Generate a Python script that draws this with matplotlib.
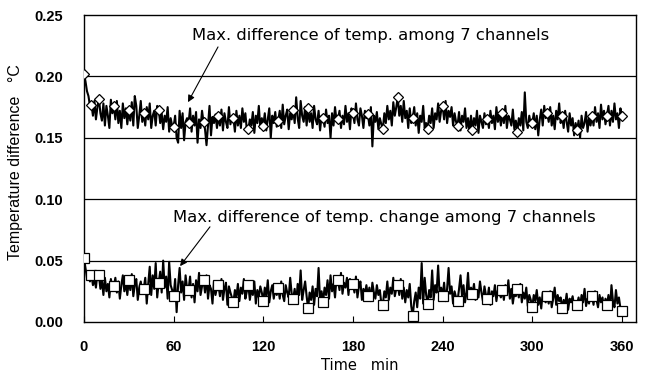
import numpy as np
import matplotlib
matplotlib.use("Agg")
import matplotlib.pyplot as plt
from matplotlib.font_manager import FontProperties

# ---- data (temperatures in units of 0.001 degC, one value per minute 0..360) ----
minutes = list(range(0, 361))

upper_mK = [
    202, 196, 188, 184, 176, 177, 168, 180, 165, 175,
    182, 170, 164, 178, 160, 176, 168, 158, 181, 170,
    176, 165, 180, 162, 172, 158, 178, 166, 174, 161,
    173, 164, 179, 160, 184, 176, 158, 168, 180, 163,
    170, 160, 175, 165, 178, 158, 168, 172, 160, 176,
    173, 162, 170, 157, 168, 163, 175, 155, 166, 160,
    159, 168, 150, 146, 172, 158, 170, 148, 163, 166,
    162, 174, 155, 168, 160, 171, 146, 165, 158, 172,
    163, 157, 144, 160, 176, 152, 167, 162, 169, 158,
    168, 160, 173, 156, 170, 163, 158, 175, 161, 167,
    166, 155, 172, 160, 168, 158, 174, 163, 170, 156,
    157, 165, 160, 171, 154, 168, 162, 176, 158, 166,
    160, 170, 156, 165, 174, 150, 168, 162, 171, 159,
    164, 172, 158, 177, 161, 168, 173, 157, 170, 165,
    173, 162, 183, 166, 158, 180, 168, 163, 175, 160,
    174, 163, 170, 158, 176, 165, 161, 172, 156, 168,
    166, 159, 173, 162, 168, 150, 170, 160, 175, 164,
    165, 172, 158, 168, 161, 176, 163, 170, 157, 174,
    170, 162, 178, 165, 160, 174, 168, 158, 172, 166,
    169, 160, 175, 143, 168, 163, 171, 157, 166, 161,
    157, 170, 162, 176, 165, 172, 160, 179, 168, 175,
    183, 168, 176, 163, 180, 166, 172, 158, 174, 162,
    166, 175, 160, 170, 154, 168, 163, 176, 158, 162,
    157, 168, 162, 174, 158, 170, 165, 178, 163, 172,
    176, 165, 180, 162, 172, 167, 175, 160, 170, 163,
    160, 171, 156, 168, 163, 174, 158, 166, 155, 168,
    156, 166, 160, 172, 154, 168, 163, 158, 170, 161,
    165, 158, 172, 162, 168, 157, 175, 163, 170, 160,
    170, 162, 176, 158, 168, 165, 160, 173, 157, 164,
    155, 166, 160, 171, 156, 187, 163, 158, 168, 161,
    162, 170, 157, 168, 152, 165, 173, 160, 176, 166,
    170, 163, 175, 160, 168, 157, 172, 165, 178, 162,
    168, 158, 172, 163, 155, 170, 160, 166, 152, 162,
    156, 164, 150, 168, 158, 162, 171, 155, 166, 160,
    168, 160, 175, 163, 170, 158, 177, 165, 172, 161,
    168, 176, 160, 172, 163, 178, 165, 170, 158, 174,
    168,
]

lower_mK = [
    52, 44, 36, 40, 33, 38, 30, 35, 28, 40,
    38, 27, 34, 22, 36, 25, 31, 20, 35, 28,
    29, 36, 24, 33, 19, 30, 38, 25, 32, 22,
    34, 26, 39, 21, 30, 35, 18, 28, 33, 24,
    27, 36, 15, 31, 45, 22, 38, 27, 48, 20,
    32, 41, 24, 50, 28, 37, 19, 49, 30, 26,
    21, 35, 8, 30, 44, 24, 33, 18, 38, 27,
    26, 37, 20, 31, 16, 34, 25, 40, 22, 29,
    34, 24, 38, 19, 30, 27, 15, 33, 22, 28,
    30, 21, 35, 18, 27, 32, 14, 29, 24, 20,
    16, 26, 20, 31, 17, 28, 23, 35, 19, 25,
    30, 18, 27, 22, 33, 15, 26, 20, 29, 24,
    17, 28, 21, 34, 16, 25, 30, 19, 27, 22,
    28, 19, 33, 22, 17, 30, 24, 20, 36, 23,
    19, 27, 15, 31, 22, 42, 18, 26, 33, 21,
    11, 24, 18, 29, 14, 27, 21, 44, 17, 25,
    16, 28, 22, 34, 19, 38, 25, 31, 20, 36,
    34, 26, 40, 23, 32, 28, 36, 22, 35, 27,
    31, 24, 37, 20, 29, 33, 18, 27, 23, 30,
    21, 28, 17, 32, 24, 19, 30, 22, 26, 15,
    14, 25, 20, 33, 18, 28, 23, 36, 21, 27,
    30, 22, 35, 19, 28, 16, 26, 20, 31, 13,
    5, 17, 24, 12, 28, 19, 48, 15, 36, 22,
    15, 26, 20, 42, 18, 30, 24, 46, 22, 28,
    21, 32, 17, 27, 44, 23, 29, 15, 25, 20,
    17, 27, 38, 21, 30, 16, 24, 40, 19, 28,
    23, 31, 18, 26, 20, 33, 24, 17, 29, 22,
    19, 28, 14, 25, 21, 30, 17, 26, 23, 20,
    26, 18, 30, 22, 34, 19, 27, 15, 24, 21,
    27, 20, 31, 16, 24, 19, 28, 13, 22, 18,
    12, 22, 17, 26, 14, 20, 11, 24, 18, 16,
    21, 15, 25, 12, 19, 28, 14, 22, 17, 20,
    11, 18, 14, 23, 10, 19, 16, 21, 13, 17,
    14, 20, 12, 22, 16, 27, 13, 19, 15, 24,
    21, 14, 25, 18, 12, 22, 16, 20, 11, 19,
    14, 22, 10, 30, 17, 12, 26, 15, 20, 11,
    9,
]

marker_minutes = [0, 5] + list(range(10, 361, 10))

x_ticks = [0, 60, 120, 180, 240, 300, 360]
y_ticks = [0.00, 0.05, 0.10, 0.15, 0.20, 0.25]

label_upper = "Max. difference of temp. among 7 channels"
label_lower = "Max. difference of temp. change among 7 channels"
x_label = "Time   min"
y_label = "Temperature difference   \u00b0C"

# ---- plotting ----
upper = np.array(upper_mK) / 1000.0
lower = np.array(lower_mK) / 1000.0
t = np.array(minutes)
mi = np.array(marker_minutes)

fig = plt.figure(figsize=(6.45, 3.79), dpi=100)
ax = fig.add_axes([0.1302, 0.1504, 0.8558, 0.81])

for yv in [0.05, 0.10, 0.15, 0.20]:
    ax.axhline(yv, color="black", lw=0.9, zorder=1)

ax.plot(t, upper, color="black", lw=1.5, zorder=2)
ax.plot(t, lower, color="black", lw=1.5, zorder=2)
ax.plot(t[mi], upper[mi], ls="none", marker="D", ms=5.6, mfc="white",
        mec="black", mew=0.9, zorder=3)
ax.plot(t[mi], lower[mi], ls="none", marker="s", ms=7.2, mfc="white",
        mec="black", mew=0.9, zorder=3)

ax.set_xlim(0, 369.4)
ax.set_ylim(0, 0.25)
ax.set_xticks(x_ticks)
ax.set_yticks(y_ticks)
ax.set_xticklabels([str(v) for v in x_ticks])
ax.set_yticklabels([f"{v:.2f}" for v in y_ticks])
tick_fp = FontProperties(family="Liberation Sans", weight="bold", size=10.5)
for lab in ax.get_xticklabels() + ax.get_yticklabels():
    lab.set_fontproperties(tick_fp)
ax.tick_params(axis="x", direction="in", length=4, pad=13, width=0.8)
ax.tick_params(axis="y", direction="in", length=0, pad=15)
for sp in ax.spines.values():
    sp.set_linewidth(1.0)

ax.set_xlabel(x_label, family="DejaVu Sans", fontsize=10.5, labelpad=3)
ax.set_ylabel(y_label, family="Liberation Sans", fontsize=11.5, labelpad=8)
ax.yaxis.set_label_coords(-0.11, 0.52)

txt_kw = dict(family="DejaVu Sans", fontsize=11.8, va="center", ha="left")
arrow_kw = dict(arrowstyle="-|>", color="black", lw=0.8,
                mutation_scale=10, shrinkA=0, shrinkB=0)

ax.text(72.3, 0.2337, label_upper, **txt_kw)
ax.annotate("", xy=(69.6, 0.179), xytext=(89.7, 0.224), arrowprops=arrow_kw)
ax.text(59.6, 0.0848, label_lower, **txt_kw)
ax.annotate("", xy=(64.3, 0.0455), xytext=(84.3, 0.0775), arrowprops=arrow_kw)

fig.savefig("out.png", dpi=100)
